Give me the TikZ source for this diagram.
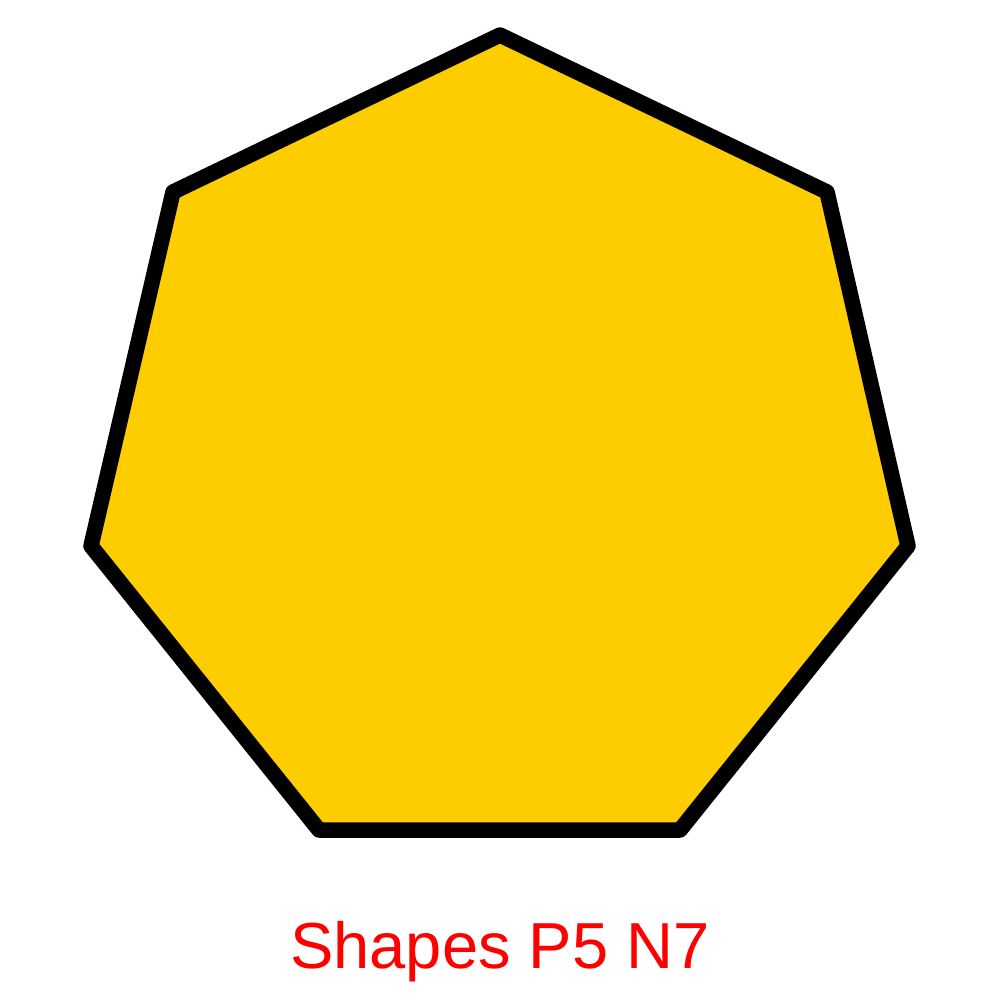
\documentclass[tikz,border=0pt]{standalone}
\usepackage{fontspec}
\setmainfont{Liberation Sans}
\definecolor{hepfill}{RGB}{253,205,0}
\definecolor{labred}{RGB}{255,0,0}
\begin{document}
\begin{tikzpicture}[x=0.01cm,y=-0.01cm,
  poly/.style={draw=black,fill=hepfill,line width=1.55mm,line join=round},
  lab/.style={text=labred,font=\fontsize{18.5}{22}\selectfont,inner sep=0pt,anchor=base}]
\useasboundingbox (0,0) rectangle (1000,1000);
\coordinate (v1) at (500,35);
\coordinate (v2) at (827,192);
\coordinate (v3) at (908,546);
\coordinate (v4) at (680,830);
\coordinate (v5) at (319,830);
\coordinate (v6) at (91,546);
\coordinate (v7) at (173,192);
\draw[poly] (v1) -- (v2) -- (v3) -- (v4) -- (v5) -- (v6) -- (v7) -- cycle;
\node[lab] (title) at (500,968) {Shapes P5 N7};
\end{tikzpicture}
\end{document}
